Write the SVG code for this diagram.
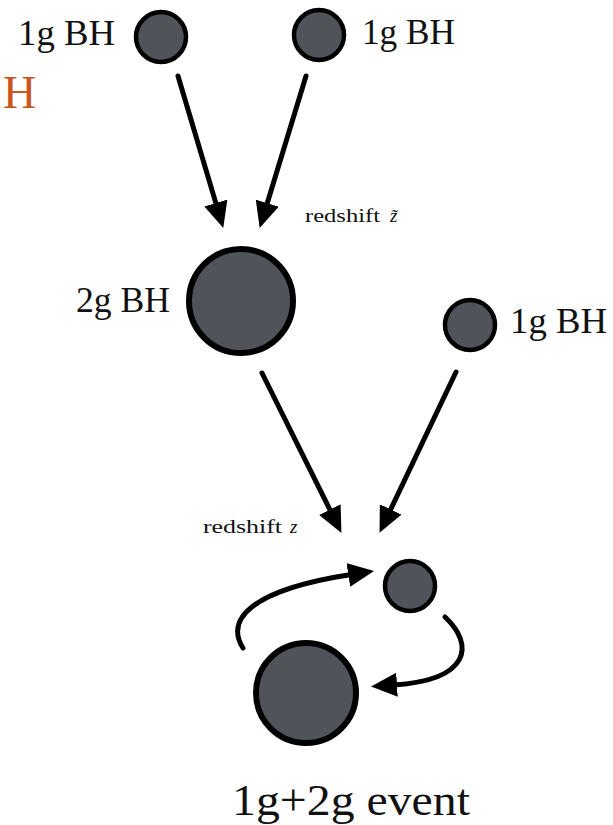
<svg xmlns="http://www.w3.org/2000/svg" width="613" height="825" viewBox="0 0 613 825">
<defs>
<style>
.bh{fill:#50535a;stroke:#000;stroke-width:4.5}
.big{stroke-width:6}
.t{font-family:"Liberation Serif","Times New Roman",serif;fill:#111}
.con{fill:none;stroke:#000;stroke-width:5;stroke-linecap:round;marker-end:url(#ah)}
</style>
<marker id="ah" viewBox="0 0 26 24" markerUnits="userSpaceOnUse" markerWidth="26" markerHeight="24" refX="3" refY="12" orient="auto">
<path d="M0,0 L26,12 L0,24 z" fill="#000"/>
</marker>
</defs>
<rect width="613" height="825" fill="#fff"/>
<text class="t" x="3" y="108" font-size="46" style="fill:#c8561e">H</text>

<g id="bh1a">
<circle class="bh" cx="161" cy="37" r="25"/>
<text class="t" x="18" y="45" font-size="35" textLength="97" lengthAdjust="spacingAndGlyphs">1g BH</text>
</g>
<g id="bh1b">
<circle class="bh" cx="319" cy="35" r="25"/>
<text class="t" x="362" y="44" font-size="35" textLength="93" lengthAdjust="spacingAndGlyphs">1g BH</text>
</g>
<g id="bh2">
<circle class="bh big" cx="241" cy="301" r="52"/>
<text class="t" x="76" y="312" font-size="35" textLength="94" lengthAdjust="spacingAndGlyphs">2g BH</text>
</g>
<g id="bh1c">
<circle class="bh" cx="470" cy="325" r="25"/>
<text class="t" x="510" y="333" font-size="35" textLength="97" lengthAdjust="spacingAndGlyphs">1g BH</text>
</g>
<g id="event">
<circle class="bh" cx="410" cy="586" r="25"/>
<circle class="bh big" cx="306" cy="693" r="50"/>
<text class="t" x="232" y="815" font-size="44" textLength="238" lengthAdjust="spacingAndGlyphs">1g+2g event</text>
</g>
<g id="labels">
<text class="t" x="305" y="222" font-size="19" textLength="75" lengthAdjust="spacingAndGlyphs">redshift</text>
<text class="t" x="390" y="222" font-size="19" font-style="italic">z̃</text>
<text class="t" x="203" y="533" font-size="19" textLength="79" lengthAdjust="spacingAndGlyphs">redshift</text>
<text class="t" x="290" y="533" font-size="19" font-style="italic">z</text>
</g>
<g id="connectors">
<path class="con" d="M178,76 L216.7,205.9"/>
<path class="con" d="M306,76 L266.4,206"/>
<path class="con" d="M262,373 L331.2,512.3"/>
<path class="con" d="M456,372 L389.4,512.1"/>
<path class="con" d="M243,648 C225,620 250,590 351.3,574.5"/>
<path class="con" d="M445,617 C475,645 470,680 394,684.9"/>
</g>
</svg>
